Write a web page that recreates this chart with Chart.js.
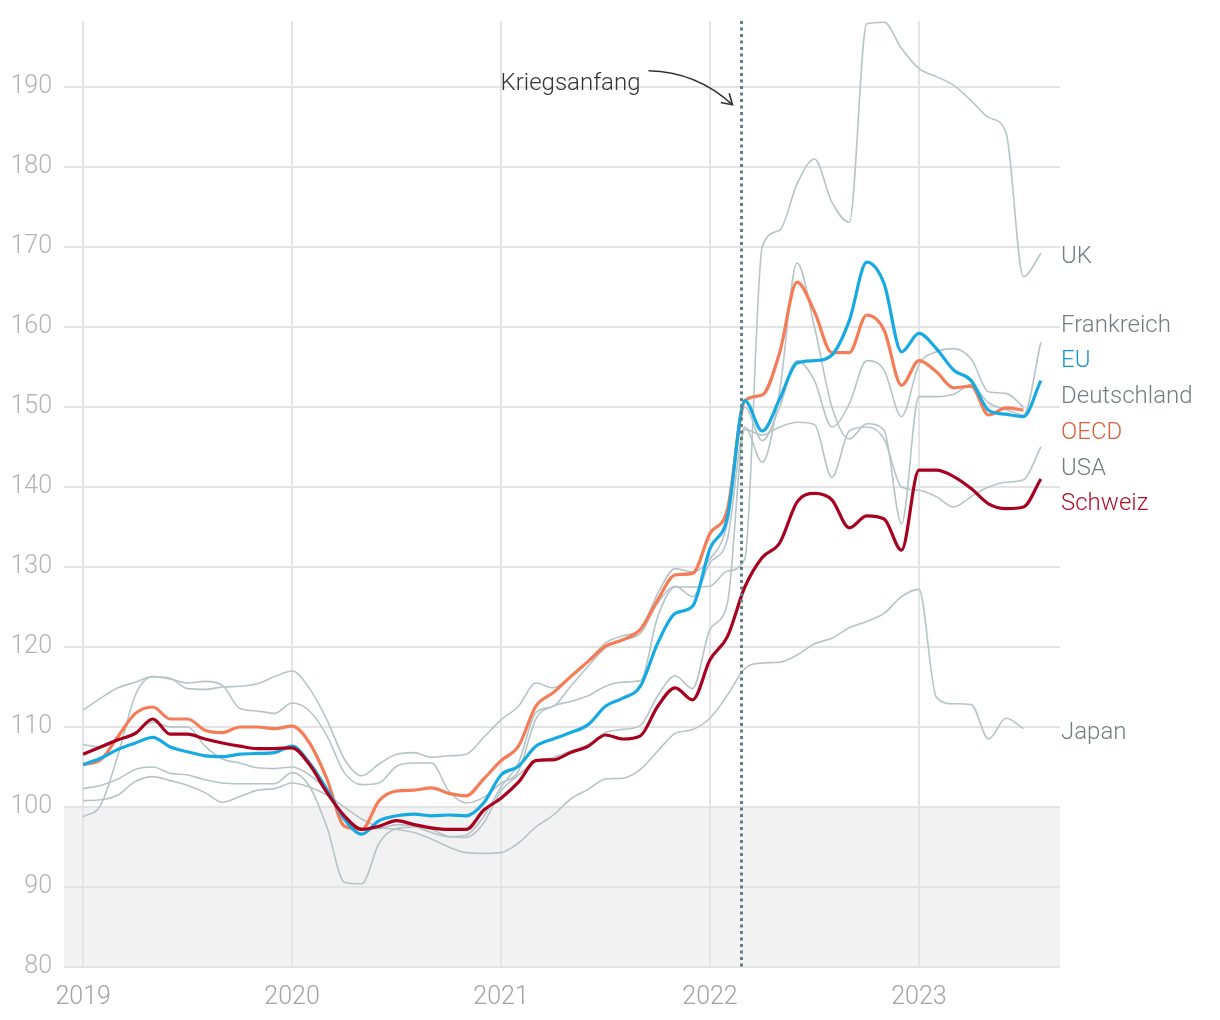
<!DOCTYPE html>
<html>
<head>
<meta charset="utf-8">
<script src="https://cdn.jsdelivr.net/npm/chart.js@4/dist/chart.umd.min.js"></script>
<style>
  html, body { margin: 0; background: #fff; }
  #wrap { width: 1220px; height: 1020px; }
</style>
</head>
<body>
<div id="wrap"><canvas id="chart" width="1220" height="1020"></canvas></div>
<script>
// monthly index values, first point = Jan 2019
const yearLabels = ['2019', '2020', '2021', '2022', '2023'];
const yTicks = [80, 90, 100, 110, 120, 130, 140, 150, 160, 170, 180, 190];
const warLabel = 'Kriegsanfang';
const warMonth = 37.77; // 24 Feb 2022, months after Jan 2019

const uk = [
    98.8, 100.2, 106.5, 114.0, 116.3, 116.0, 115.5, 115.7, 115.2, 112.3, 112.0, 111.7,
    113.0, 112.0, 108.9, 104.3, 102.8, 103.0, 105.1, 105.5, 105.5, 102.0, 100.5, 101.2,
    103.0, 104.5, 111.0, 112.6, 113.2, 113.9, 115.1, 115.6, 115.8, 123.8, 127.5, 127.5,
    127.6, 129.5, 131.0, 170.0, 172.1, 177.9, 181.0, 175.6, 173.1, 197.9, 198.1, 194.8,
    192.3, 191.3, 190.2, 188.3, 186.2, 184.3, 166.3, 169.2
];
const frankreich = [
    107.8, 107.5, 108.3, 109.4, 110.6, 110.0, 110.0, 107.6, 106.0, 105.5, 104.9, 104.8,
    105.0, 104.0, 102.0, 99.0, 97.3, 97.3, 97.8, 97.6, 96.8, 96.3, 96.5, 98.8,
    102.5, 105.5, 111.8, 112.6, 115.1, 117.6, 119.9, 120.9, 121.7, 125.5, 127.6, 126.3,
    130.5, 133.5, 147.5, 143.1, 152.0, 168.0, 160.0, 150.0, 146.0, 147.9, 147.1, 135.4,
    151.3, 151.3, 151.6, 152.8, 150.5, 149.7, 149.0, 158.1
];
const deutschland = [
    112.1, 113.6, 114.9, 115.6, 116.3, 116.1, 114.8, 114.7, 115.0, 115.1, 115.4, 116.3,
    117.0, 114.8, 110.9, 106.0, 103.9, 105.4, 106.6, 106.8, 106.2, 106.4, 106.6, 108.7,
    110.9, 112.6, 115.5, 114.9, 116.3, 118.2, 120.5, 121.4, 122.2, 126.7, 129.8, 129.4,
    131.0, 135.5, 150.0, 145.8, 150.0, 155.8, 153.3, 147.5, 150.4, 155.8, 154.6, 148.8,
    155.3, 156.9, 157.3, 156.0, 151.9, 151.7, 150.0
];
const usa = [
    102.3, 102.7, 103.5, 104.7, 105.0, 104.2, 104.0, 103.4, 103.0, 102.9, 102.9, 102.9,
    104.3, 102.6, 97.5, 90.6, 90.4, 95.5, 97.3, 97.5, 97.2, 96.3, 96.2, 98.0,
    102.0, 104.0, 105.7, 106.2, 107.0, 107.8, 109.3, 109.7, 110.2, 113.9, 116.4, 114.8,
    122.2, 125.5, 147.2, 146.5, 147.5, 148.1, 147.8, 141.2, 147.0, 147.5, 146.0, 140.0,
    139.6, 138.8, 137.5, 138.8, 140.0, 140.6, 140.9, 145.0
];
const japan = [
    100.8, 100.9, 101.5, 103.2, 103.8, 103.3, 102.7, 101.8, 100.6, 101.3, 102.1, 102.3,
    103.0, 102.5, 101.5, 100.0, 98.5, 97.5, 97.2, 96.8, 96.0, 95.0, 94.3, 94.2,
    94.3, 95.5, 97.5, 99.0, 101.0, 102.2, 103.5, 103.6, 104.7, 107.0, 109.2, 109.7,
    111.1, 114.0, 117.3, 118.0, 118.1, 119.0, 120.4, 121.1, 122.4, 123.2, 124.2, 126.3,
    127.2, 113.7, 112.9, 112.8, 108.5, 111.1, 109.8
];
const oecd = [
    105.3, 105.9, 108.8, 111.7, 112.5, 111.0, 111.0, 109.6, 109.3, 110.0, 110.0, 109.8,
    110.1, 108.0, 103.5, 97.6, 97.2, 100.8, 102.0, 102.1, 102.4, 101.7, 101.4, 103.5,
    105.8, 107.6, 112.6, 114.3, 116.3, 118.2, 120.1, 120.9, 122.2, 125.9, 129.0, 129.2,
    134.2, 137.2, 150.8, 151.5, 156.8, 165.6, 161.9, 156.8, 156.8, 161.5, 159.6, 152.7,
    155.8, 154.4, 152.4, 152.6, 149.0, 149.9, 149.6
];
const eu = [
    105.3, 106.1, 107.2, 108.0, 108.7, 107.5, 106.9, 106.4, 106.3, 106.6, 106.7, 106.8,
    107.6, 105.5, 102.2, 98.5, 96.6, 98.3, 98.9, 99.1, 98.9, 99.0, 98.9, 100.5,
    104.0, 105.1, 107.6, 108.5, 109.3, 110.3, 112.6, 113.6, 115.1, 120.5, 124.2, 125.1,
    132.3, 136.2, 150.8, 147.0, 151.0, 155.5, 155.8, 156.5, 160.8, 168.1, 165.4, 156.9,
    159.2, 157.3, 154.6, 153.3, 149.6, 149.1, 148.8, 153.3
];
const schweiz = [
    106.6, 107.5, 108.4, 109.2, 111.0, 109.1, 109.1, 108.5, 108.0, 107.6, 107.3, 107.3,
    107.4, 105.3, 101.8, 98.9, 97.2, 97.6, 98.3, 97.8, 97.4, 97.2, 97.2, 99.6,
    101.1, 103.1, 105.8, 105.9, 106.8, 107.6, 109.0, 108.5, 108.9, 112.6, 114.9, 113.4,
    118.4, 121.3, 127.5, 131.2, 133.0, 138.1, 139.2, 138.4, 134.9, 136.4, 136.0, 132.1,
    142.1, 142.1, 141.3, 139.8, 137.9, 137.3, 137.5, 141.0
];

const GRAY = '#b7c4c7';
const GRAY_TEXT = '#747e81';
const FONT = 'Roboto, "Noto Sans", sans-serif';

const series = [
    { name: 'UK', data: uk, color: GRAY, text: GRAY_TEXT, width: 1.6, order: 3 },
    { name: 'Frankreich', data: frankreich, color: GRAY, text: GRAY_TEXT, width: 1.6, order: 3 },
    { name: 'Deutschland', data: deutschland, color: GRAY, text: GRAY_TEXT, width: 1.6, order: 3 },
    { name: 'USA', data: usa, color: GRAY, text: GRAY_TEXT, width: 1.6, order: 3 },
    { name: 'Japan', data: japan, color: GRAY, text: GRAY_TEXT, width: 1.6, order: 3 },
    { name: 'OECD', data: oecd, color: '#f47d58', text: '#d8613c', width: 3.2, order: 2 },
    { name: 'EU', data: eu, color: '#17aae2', text: '#1b95cc', width: 3.2, order: 1 },
    { name: 'Schweiz', data: schweiz, color: '#a8001f', text: '#b0102b', width: 3.2, order: 0 }
];

// grey zone below 100, drawn under the grid
const shadePlugin = {
    id: 'shade',
    beforeDraw(chart) {
        const { ctx, chartArea: a, scales: { y } } = chart;
        ctx.save();
        ctx.fillStyle = '#f2f2f2';
        const top = y.getPixelForValue(100);
        ctx.fillRect(a.left, top, a.right - a.left, a.bottom - top);
        ctx.restore();
    }
};

// end labels, pushed apart where they collide
const labelPlugin = {
    id: 'endLabels',
    afterDatasetsDraw(chart) {
        const { ctx, chartArea: a, scales: { y } } = chart;
        const items = series.map(s => ({
            s,
            y: y.getPixelForValue(s.data[s.data.length - 1]) + 4
        }));
        items.sort((p, q) => p.y - q.y);
        const gap = 35.8;
        for (let it = 0; it < 400; it++) {
            let moved = false;
            for (let i = 1; i < items.length; i++) {
                const d = items[i].y - items[i - 1].y;
                if (d < gap - 0.01) {
                    const push = (gap - d) / 2;
                    items[i - 1].y -= push;
                    items[i].y += push;
                    moved = true;
                }
            }
            if (!moved) break;
        }
        ctx.save();
        ctx.font = '300 24px ' + FONT;
        ctx.textBaseline = 'middle';
        ctx.textAlign = 'left';
        items.forEach(item => {
            ctx.fillStyle = item.s.text;
            ctx.fillText(item.s.name, a.right + 1, item.y);
        });
        ctx.restore();
    }
};

// war start marker with annotation
const warPlugin = {
    id: 'war',
    afterDatasetsDraw(chart) {
        const { ctx, chartArea: a, scales: { x, y } } = chart;
        const wx = Math.round(x.getPixelForValue(warMonth)) + 0.5;
        ctx.save();
        ctx.strokeStyle = '#5f7e88';
        ctx.lineWidth = 3;
        ctx.setLineDash([3, 3.5]);
        ctx.beginPath();
        ctx.moveTo(wx, a.top);
        ctx.lineTo(wx, a.bottom);
        ctx.stroke();
        ctx.setLineDash([]);

        const ty = y.getPixelForValue(190.4);
        ctx.font = '300 24px ' + FONT;
        ctx.fillStyle = '#333';
        ctx.textAlign = 'right';
        ctx.textBaseline = 'middle';
        ctx.fillText(warLabel, wx - 101, ty);

        const p0 = [wx - 93, ty - 13], c = [wx - 45, ty - 12], p2 = [wx - 9, ty + 21];
        ctx.strokeStyle = '#333';
        ctx.lineWidth = 1.6;
        ctx.beginPath();
        ctx.moveTo(p0[0], p0[1]);
        ctx.quadraticCurveTo(c[0], c[1], p2[0], p2[1]);
        ctx.stroke();
        const ang = Math.atan2(p2[1] - c[1], p2[0] - c[0]);
        const len = 12;
        ctx.beginPath();
        ctx.moveTo(p2[0] + len * Math.cos(ang + Math.PI - 0.55), p2[1] + len * Math.sin(ang + Math.PI - 0.55));
        ctx.lineTo(p2[0], p2[1]);
        ctx.lineTo(p2[0] + len * Math.cos(ang + Math.PI + 0.55), p2[1] + len * Math.sin(ang + Math.PI + 0.55));
        ctx.stroke();
        ctx.restore();
    }
};

new Chart(document.getElementById('chart'), {
    type: 'line',
    data: {
        datasets: series.map(s => ({
            label: s.name,
            data: s.data.map((v, i) => ({ x: i, y: v })),
            borderColor: s.color,
            borderWidth: s.width,
            pointRadius: 0,
            fill: false,
            cubicInterpolationMode: 'monotone',
            order: s.order
        }))
    },
    options: {
        responsive: false,
        animation: false,
        layout: { padding: { top: 21, right: 160, bottom: 0, left: 0 } },
        plugins: {
            legend: { display: false },
            tooltip: { enabled: false }
        },
        scales: {
            x: {
                type: 'linear',
                min: -1.1,
                max: 56.1,
                afterBuildTicks: (s) => { s.ticks = yearLabels.map((_, i) => ({ value: i * 12 })); },
                afterFit: (s) => { s.height = 53; s.paddingLeft = 0; s.paddingRight = 0; },
                grid: { color: '#e4e4e4', lineWidth: 2, drawTicks: false },
                border: { display: false },
                ticks: {
                    padding: 16,
                    color: '#a3a3a3',
                    font: { family: FONT, size: 25, weight: '300' },
                    maxRotation: 0,
                    callback: (v) => yearLabels[Math.round(v / 12)]
                }
            },
            y: {
                min: 80,
                max: 198.25,
                afterBuildTicks: (s) => { s.ticks = yTicks.map(v => ({ value: v })); },
                afterFit: (s) => { s.width = 64; s.paddingTop = 0; s.paddingBottom = 0; },
                grid: { color: '#e4e4e4', lineWidth: 2, drawTicks: false },
                border: { display: false },
                ticks: {
                    padding: 12,
                    color: '#b3b3b3',
                    font: { family: FONT, size: 25, weight: '300' }
                }
            }
        }
    },
    plugins: [shadePlugin, warPlugin, labelPlugin]
});
</script>
</body>
</html>
